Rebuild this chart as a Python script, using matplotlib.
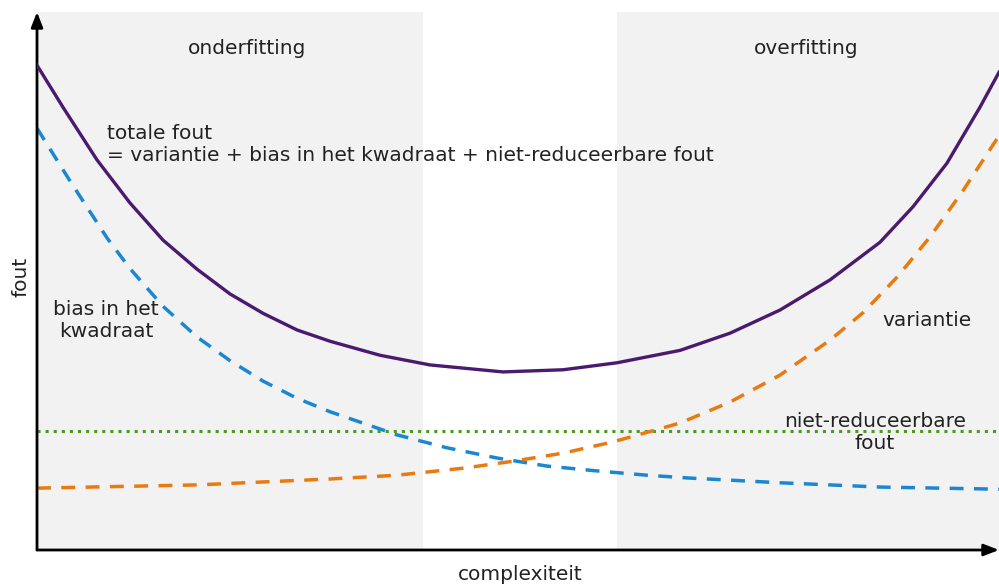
import matplotlib.pyplot as plt

# complexity (0-100) and error (0-100) values
total_x = [0, 2.7, 6.24, 9.67, 13.1, 16.63, 20.06, 23.49, 27.03, 30.46, 35.65, 40.85, 48.44,
           54.68, 60.29, 66.84, 72.04, 77.23, 82.43, 87.63, 91.06, 94.59, 98.02, 100]
total_error = [90.1, 82.3, 72.5, 64.5, 57.6, 52.2, 47.6, 44.0, 40.9, 38.8, 36.2, 34.4, 33.1,
               33.5, 34.8, 37.1, 40.3, 44.6, 50.2, 57.2, 63.8, 71.9, 82.3, 88.8]

bias_x = [0, 3.43, 7.28, 9.67, 13.1, 16.63, 20.06, 23.49, 27.03, 30.46, 37.42, 42.62, 47.82,
          53.01, 58.21, 63.41, 67.57, 77.23, 87.63, 100]
bias_sq = [78.4, 68.6, 58.0, 52.3, 45.3, 39.6, 35.2, 31.4, 28.2, 25.7, 21.4, 19.0, 17.1,
           15.6, 14.7, 13.9, 13.4, 12.5, 11.7, 11.3]

var_x = [0, 16.63, 30.46, 37.42, 44.28, 49.48, 54.68, 59.88, 65.07, 66.84, 72.04, 77.23,
         82.43, 85.86, 89.4, 92.83, 96.26, 100]
variance = [11.5, 12.1, 13.2, 13.9, 15.2, 16.5, 18.0, 20.1, 22.7, 23.6, 27.5, 32.5,
            39.0, 44.1, 50.7, 58.2, 66.8, 77.0]

irreducible = 22.1
under_region = (0, 40.1)
over_region = (60.3, 100)

plt.rcParams['font.family'] = 'DejaVu Sans'
text_color = '#222222'
fs = 14.5

fig = plt.figure(figsize=(9.99, 5.84), dpi=100)
ax = fig.add_axes([37 / 999, 34 / 584, 962 / 999, 538 / 584])
ax.set_xlim(0, 100)
ax.set_ylim(0, 100)

ax.axvspan(*under_region, color='#f2f2f2', lw=0, zorder=0)
ax.axvspan(*over_region, color='#f2f2f2', lw=0, zorder=0)

ax.plot(total_x, total_error, color='#4a1a6e', lw=2.4, zorder=4, solid_joinstyle='round')
ax.plot(bias_x, bias_sq, color='#1a88d0', lw=2.5, dashes=(4, 3), zorder=3)
ax.plot(var_x, variance, color='#e87a10', lw=2.5, dashes=(4, 3), zorder=3)
ax.axhline(irreducible, color='#4a9a20', lw=2.2, ls=':', zorder=2)

for s in ax.spines.values():
    s.set_visible(False)
ax.set_xticks([])
ax.set_yticks([])

# axis arrows
arrow = dict(arrowstyle='-|>,head_length=0.9,head_width=0.35', color='black', lw=2,
             shrinkA=0, shrinkB=0)
ax.annotate('', xy=(0, 1.0), xytext=(0, 0), xycoords='axes fraction',
            arrowprops=arrow, annotation_clip=False)
ax.annotate('', xy=(1.0, 0), xytext=(0, 0), xycoords='axes fraction',
            arrowprops=arrow, annotation_clip=False)

ax.text(21.8, 93.3, 'onderfitting', ha='center', va='center', fontsize=fs, color=text_color)
ax.text(80.0, 93.3, 'overfitting', ha='center', va='center', fontsize=fs, color=text_color)
ax.text(7.3, 75.3, 'totale fout\n= variantie + bias in het kwadraat + niet-reduceerbare fout',
        ha='left', va='center', fontsize=fs, color=text_color, linespacing=1.2)
ax.text(7.2, 42.75, 'bias in het\nkwadraat', ha='center', va='center', fontsize=fs,
        color=text_color, linespacing=1.2, multialignment='center')
ax.text(92.5, 42.6, 'variantie', ha='center', va='center', fontsize=fs, color=text_color)
ax.text(87.1, 21.8, 'niet-reduceerbare\nfout', ha='center', va='center', fontsize=fs,
        color=text_color, linespacing=1.2, multialignment='center')

fig.text(21 / 999, 1 - 277 / 584, 'fout', rotation=90, ha='center', va='center',
         fontsize=fs, color=text_color)
fig.text(520 / 999, 1 - 575 / 584, 'complexiteit', ha='center', va='center',
         fontsize=fs, color=text_color)

fig.savefig('out.png', dpi=100)
